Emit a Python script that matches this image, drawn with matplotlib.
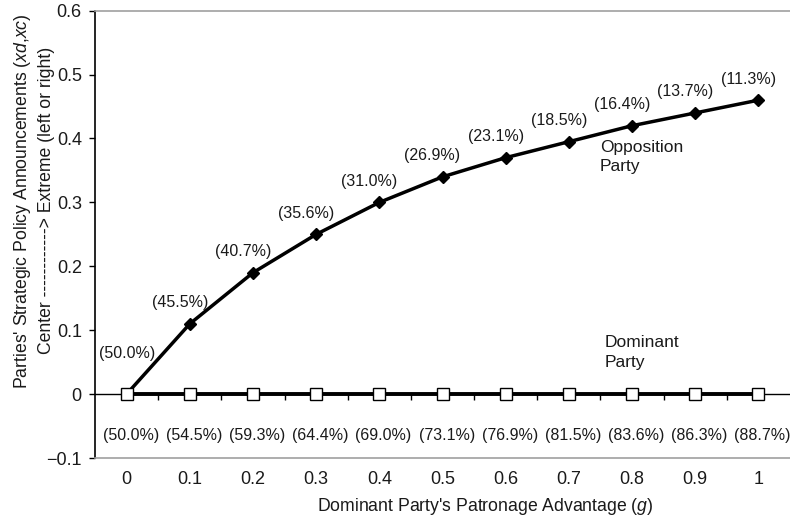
import numpy as np
import matplotlib.pyplot as plt

plt.rcParams['font.family'] = ['Liberation Sans', 'DejaVu Sans']
plt.rcParams['mathtext.fontset'] = 'custom'
plt.rcParams['mathtext.rm'] = 'Liberation Sans'
plt.rcParams['mathtext.it'] = 'Liberation Sans:italic'

# patronage advantage g and the parties' announced positions
g = [0.0, 0.1, 0.2, 0.3, 0.4, 0.5, 0.6, 0.7, 0.8, 0.9, 1.0]
g_labels = ['0', '0.1', '0.2', '0.3', '0.4', '0.5', '0.6', '0.7', '0.8', '0.9', '1']
opposition = [0.0, 0.11, 0.19, 0.25, 0.30, 0.34, 0.37, 0.395, 0.42, 0.44, 0.46]
dominant = [0.0] * 11
# vote shares printed next to each point
opp_share = ['50.0', '45.5', '40.7', '35.6', '31.0', '26.9', '23.1', '18.5', '16.4', '13.7', '11.3']
dom_share = ['50.0', '54.5', '59.3', '64.4', '69.0', '73.1', '76.9', '81.5', '83.6', '86.3', '88.7']

fig = plt.figure(figsize=(7.9, 5.19), dpi=100)
ax = fig.add_axes([0.1203, 0.1175, 0.8797, 0.8619])

ax.set_xlim(-0.05, 1.05)
ax.set_ylim(-0.1, 0.6)

# horizontal category axis sits on y = 0
ax.axhline(0, color='black', lw=1, zorder=2)
bounds = np.arange(0.05, 1.0, 0.1)
ax.vlines(bounds, -0.0094, 0, color='black', lw=1, zorder=2)

ax.plot(g, opposition, color='black', lw=2.5, marker='D', ms=6.5,
        mfc='black', mec='black', zorder=3, clip_on=False)
ax.plot(g, dominant, color='black', lw=2.8, marker='s', ms=8,
        mfc='white', mec='black', mew=1, zorder=4, clip_on=False)

for i, (x, y) in enumerate(zip(g, opposition)):
    off = (0, 29.5) if i == 0 else (-7.2, 15.1)
    ax.annotate('(%s%%)' % opp_share[i], (x, y), xytext=off,
                textcoords='offset points', ha='center', va='center',
                fontsize=11.5, color='#1a1a1a')
for i, (x, y) in enumerate(zip(g, dominant)):
    ax.annotate('(%s%%)' % dom_share[i], (x, y), xytext=(3, -29.5),
                textcoords='offset points', ha='center', va='center',
                fontsize=11.5, color='#1a1a1a')

ax.text(0.749, 0.371, 'Opposition\nParty', ha='left', va='center',
        fontsize=12.5, linespacing=1.35, color='#1a1a1a')
ax.text(0.756, 0.065, 'Dominant\nParty', ha='left', va='center',
        fontsize=12.5, linespacing=1.35, color='#1a1a1a')

ax.set_xticks(g)
ax.set_xticklabels(g_labels)
ax.set_yticks(np.arange(-0.1, 0.61, 0.1))
ax.set_yticklabels(['\u22120.1', '0', '0.1', '0.2', '0.3', '0.4', '0.5', '0.6'])
ax.tick_params(axis='x', length=0, pad=9, labelsize=13, labelcolor='#1a1a1a')
ax.tick_params(axis='y', length=4.5, width=1, pad=5, labelsize=13,
               labelcolor='#1a1a1a')

ax.spines['right'].set_visible(False)
ax.spines['left'].set_color('black')
ax.spines['top'].set_color('#a0a0a0')
ax.spines['bottom'].set_color('#a0a0a0')
for s in ax.spines.values():
    s.set_linewidth(1.2)

fig.text(0.614, 0.024, "Dominant Party's Patronage Advantage ($g$)",
         ha='center', va='center', fontsize=12.7, color='#1a1a1a')
fig.text(0.028, 0.613, "Parties' Strategic Policy Announcements ($xd$,$xc$)",
         rotation=90, ha='center', va='center', fontsize=12.7, color='#1a1a1a')
fig.text(0.059, 0.613, 'Center ------------> Extreme (left or right)',
         rotation=90, ha='center', va='center', fontsize=12.7, color='#1a1a1a')

fig.savefig('out.png', dpi=100)
